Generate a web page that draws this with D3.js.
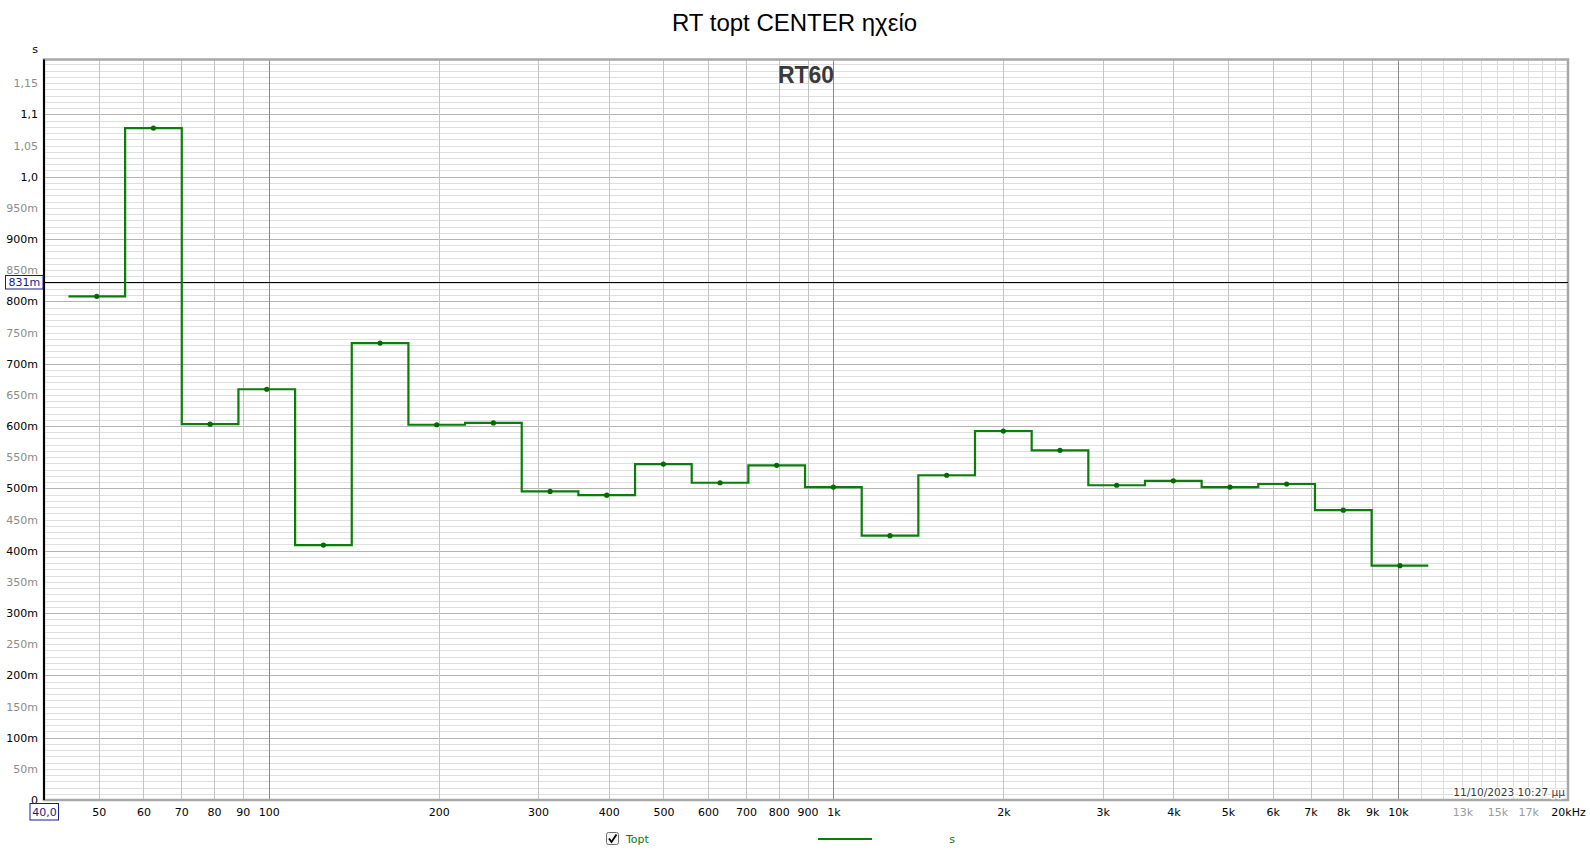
<!DOCTYPE html>
<html>
<head>
<meta charset="utf-8">
<script src="https://cdn.jsdelivr.net/npm/d3@7"></script>
<style>
  html, body { margin: 0; padding: 0; background: #fff; }
  svg { display: block; }
</style>
</head>
<body>
<svg id="chart" width="1590" height="858"></svg>
<script>
// ---- data ----
const titleText = "RT topt CENTER ηχείο";
const plotLabel = "RT60";
const bandsHz = [50, 63, 80, 100, 125, 160, 200, 250, 315, 400, 500, 630, 800, 1000, 1250, 1600, 2000, 2500, 3150, 4000, 5000, 6300, 8000, 10000];
const rt60 = [0.808, 1.078, 0.603, 0.659, 0.409, 0.733, 0.602, 0.605, 0.495, 0.489, 0.539, 0.509, 0.537, 0.502, 0.424, 0.521, 0.592, 0.561, 0.505, 0.512, 0.502, 0.507, 0.465, 0.376];
const xTickValues = [40, 50, 60, 70, 80, 90, 100, 200, 300, 400, 500, 600, 700, 800, 900, 1000, 2000, 3000, 4000, 5000, 6000, 7000, 8000, 9000, 10000, 13000, 15000, 17000, 20000];
const xTickLabels = ["40,0", "50", "60", "70", "80", "90", "100", "200", "300", "400", "500", "600", "700", "800", "900", "1k", "2k", "3k", "4k", "5k", "6k", "7k", "8k", "9k", "10k", "13k", "15k", "17k", "20kHz"];
const xGreyLabels = ["13k", "15k", "17k"];
const yTickValues = [0, 0.05, 0.1, 0.15, 0.2, 0.25, 0.3, 0.35, 0.4, 0.45, 0.5, 0.55, 0.6, 0.65, 0.7, 0.75, 0.8, 0.85, 0.9, 0.95, 1.0, 1.05, 1.1, 1.15];
const yTickLabels = ["0", "50m", "100m", "150m", "200m", "250m", "300m", "350m", "400m", "450m", "500m", "550m", "600m", "650m", "700m", "750m", "800m", "850m", "900m", "950m", "1,0", "1,05", "1,1", "1,15"];
const cursorValue = 0.831;
const cursorLabel = "831m";
const dateText = "11/10/2023 10:27 μμ";
const legendName = "Topt";
const legendUnit = "s";
const yUnit = "s";

// ---- layout ----
const L = 44, R = 1568, T = 59.5, B = 800;
const green = "#0b7d0b";
const svg = d3.select("#chart");
const font = "'DejaVu Sans', sans-serif";

const x = d3.scaleLog().domain([40, 20000]).range([L, R]);
const y = d3.scaleLinear().domain([0, 1.188]).range([B, T]);

svg.append("defs").append("clipPath").attr("id", "plotClip")
  .append("rect").attr("x", L).attr("y", T).attr("width", R - L).attr("height", B - T);

const grid = svg.append("g").attr("clip-path", "url(#plotClip)");

// horizontal gridlines every 0.01, darker every 0.1
const hLines = d3.range(1, 119).map(i => i / 100);
grid.selectAll("line.h").data(hLines).join("line")
  .attr("x1", L).attr("x2", R)
  .attr("y1", d => Math.round(y(d)) + 0.5).attr("y2", d => Math.round(y(d)) + 0.5)
  .attr("stroke", (d, i) => ((i + 1) % 10 === 0) ? "#b4b4b4" : "#dedede")
  .attr("stroke-width", 1);

// vertical gridlines
const vLines = [];
[10, 100, 1000].forEach(dec => {
  for (let m = 1; m <= 9; m++) {
    const f = dec * m;
    if (f > 40 && f < 20000) vLines.push({ f, type: m === 1 ? "dec" : "n" });
  }
});
vLines.push({ f: 10000, type: "dec" });
for (let k = 11; k <= 19; k++) vLines.push({ f: k * 1000, type: "hi" });
grid.selectAll("line.v").data(vLines).join("line")
  .attr("x1", d => Math.round(x(d.f)) + 0.5).attr("x2", d => Math.round(x(d.f)) + 0.5)
  .attr("y1", T).attr("y2", B)
  .attr("stroke", d => d.type === "dec" ? "#8a8a8a" : (d.type === "hi" ? "#dcdcdc" : "#c4c4c4"))
  .attr("stroke-width", 1);

// frame
svg.append("rect").attr("x", L).attr("y", T).attr("width", R - L).attr("height", B - T)
  .attr("fill", "none").attr("stroke", "#a8a8a8").attr("stroke-width", 2.5);
svg.append("line").attr("x1", L).attr("x2", L).attr("y1", T).attr("y2", B)
  .attr("stroke", "#000").attr("stroke-width", 2);

// cursor line
svg.append("line").attr("x1", L).attr("x2", R)
  .attr("y1", Math.round(y(cursorValue)) + 0.5).attr("y2", Math.round(y(cursorValue)) + 0.5)
  .attr("stroke", "#000").attr("stroke-width", 1);

// step data: exact base-2 third-octave centres and edges
const bandEdges = bandsHz.map(f => {
  const n = Math.round(3 * Math.log2(f / 1000));
  return { c: 1000 * Math.pow(2, n / 3), lo: 1000 * Math.pow(2, (n - 0.5) / 3), hi: 1000 * Math.pow(2, (n + 0.5) / 3) };
});
const stepPts = [];
bandEdges.forEach((b, i) => { stepPts.push([b.lo, rt60[i]]); stepPts.push([b.hi, rt60[i]]); });
const line = d3.line().x(d => x(d[0])).y(d => y(d[1]));
svg.append("path").datum(stepPts).attr("d", line)
  .attr("fill", "none").attr("stroke", green).attr("stroke-width", 2.2)
  .attr("stroke-linejoin", "miter");
svg.selectAll("circle.pt").data(bandEdges).join("circle")
  .attr("cx", d => x(d.c)).attr("cy", (d, i) => y(rt60[i])).attr("r", 2.6)
  .attr("fill", "#006a00");

// y axis labels
const yAxis = d3.axisLeft(y).tickValues(yTickValues).tickSize(0).tickPadding(6)
  .tickFormat((d, i) => yTickLabels[i]);
const gy = svg.append("g").attr("transform", `translate(${L},0)`).call(yAxis);
gy.select(".domain").remove();
gy.selectAll("text").attr("font-family", font).attr("font-size", 11)
  .attr("fill", (d, i) => i % 2 === 0 ? "#000" : "#8c8c8c");

// x axis labels
const xAxis = d3.axisBottom(x).tickValues(xTickValues).tickSize(0).tickPadding(8)
  .tickFormat((d, i) => xTickLabels[i]);
const gx = svg.append("g").attr("transform", `translate(0,${B})`).call(xAxis);
gx.select(".domain").remove();
gx.selectAll("text").attr("font-family", font).attr("font-size", 11)
  .attr("fill", (d, i) => xGreyLabels.includes(xTickLabels[i]) ? "#9a9a9a" : "#000");

// boxed start label 40,0
const firstTick = gx.selectAll(".tick").filter((d, i) => i === 0);
firstTick.insert("rect", "text").attr("x", -14.5).attr("y", 3.5).attr("width", 28.5).attr("height", 16.5)
  .attr("fill", "#fff").attr("stroke", "#1a1a8c").attr("stroke-width", 1);
firstTick.select("text").attr("fill", "#1a1a8c");

// cursor label box
const cy = Math.round(y(cursorValue));
svg.append("rect").attr("x", 5.5).attr("y", cy - 6.5).attr("width", 37.5).attr("height", 13.5)
  .attr("fill", "#fff").attr("stroke", "#1a1a8c").attr("stroke-width", 1);
svg.append("text").attr("x", 24.3).attr("y", cy + 4.3).attr("text-anchor", "middle")
  .attr("font-family", font).attr("font-size", 11).attr("fill", "#1a1a8c").text(cursorLabel);

// unit
svg.append("text").attr("x", 35).attr("y", 53).attr("text-anchor", "middle")
  .attr("font-family", font).attr("font-size", 11).attr("fill", "#000").text(yUnit);

// title
svg.append("text").attr("x", 794.5).attr("y", 31).attr("text-anchor", "middle")
  .attr("font-family", "'Liberation Sans', Arial, sans-serif").attr("font-size", 24)
  .attr("fill", "#000").text(titleText);

// RT60 label
svg.append("text").attr("x", 806).attr("y", 83).attr("text-anchor", "middle")
  .attr("font-family", "'Liberation Sans', Arial, sans-serif").attr("font-size", 23).attr("font-weight", "bold")
  .attr("fill", "#3a3a3a").text(plotLabel);

// date
svg.append("text").attr("x", 1565).attr("y", 795.5).attr("text-anchor", "end")
  .attr("font-family", font).attr("font-size", 10.6).attr("fill", "#3a3a3a")
  .attr("stroke", "#fff").attr("stroke-width", 2.5).attr("paint-order", "stroke")
  .text(dateText);

// legend
const lg = svg.append("g");
lg.append("rect").attr("x", 606.5).attr("y", 832.5).attr("width", 12).attr("height", 12).attr("rx", 2)
  .attr("fill", "#f4f4f4").attr("stroke", "#6e6e6e").attr("stroke-width", 1);
lg.append("path").attr("d", "M609,838.5 L611.5,842 L616.5,834.5")
  .attr("fill", "none").attr("stroke", "#000").attr("stroke-width", 1.8);
lg.append("text").attr("x", 626).attr("y", 843).attr("font-family", font).attr("font-size", 11)
  .attr("fill", "#0a7a0a").text(legendName);
lg.append("line").attr("x1", 818).attr("x2", 872).attr("y1", 839).attr("y2", 839)
  .attr("stroke", green).attr("stroke-width", 2.2);
lg.append("text").attr("x", 952).attr("y", 843).attr("text-anchor", "middle").attr("font-family", font).attr("font-size", 11)
  .attr("fill", "#0a7a0a").text(legendUnit);
</script>
</body>
</html>
